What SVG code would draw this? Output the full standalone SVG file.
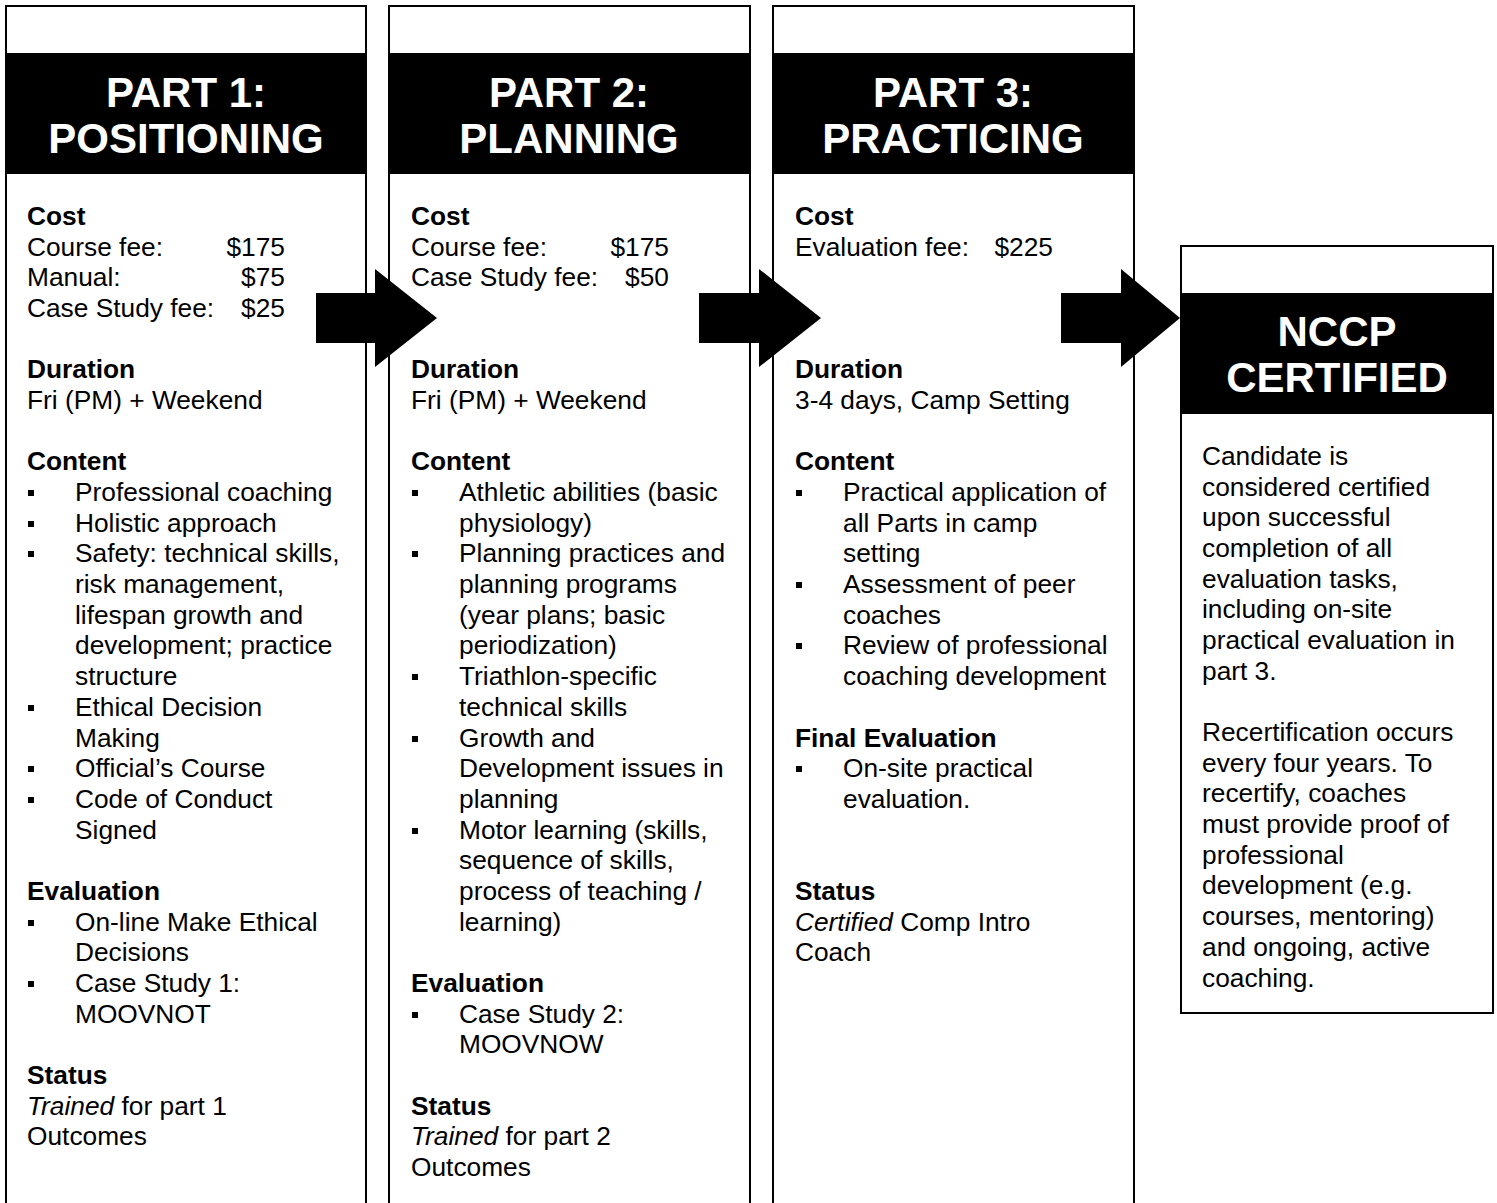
<svg xmlns="http://www.w3.org/2000/svg" width="1497" height="1203" viewBox="0 0 1497 1203">
<style>
.box{fill:#fff;stroke:#000;stroke-width:2}
.hdr{fill:#000}
.ht{font-family:"Liberation Sans",Arial,sans-serif;font-size:42px;font-weight:bold;fill:#fff;text-anchor:middle}
.t{font-family:"Liberation Sans",Arial,sans-serif;font-size:26.3px;fill:#000}
.b{font-weight:bold}
.i{font-style:italic}
.r{text-anchor:end}
.arrow{fill:#000}
</style>
<defs>
<rect id="blt" width="6" height="6" fill="#000"/>
</defs>

<g id="part1">
<rect class="box" x="6" y="6" width="360" height="1220"/>
<rect class="hdr" x="5" y="53" width="362" height="121"/>
<text class="ht" x="186" y="107">PART 1:</text>
<text class="ht" x="186" y="153">POSITIONING</text>
<text class="t b" x="27" y="225">Cost</text>
<text class="t" x="27" y="256">Course fee:</text><text class="t r" x="285" y="256">$175</text>
<text class="t" x="27" y="286">Manual:</text><text class="t r" x="285" y="286">$75</text>
<text class="t" x="27" y="317">Case Study fee:</text><text class="t r" x="285" y="317">$25</text>
<text class="t b" x="27" y="378">Duration</text>
<text class="t" x="27" y="409">Fri (PM) + Weekend</text>
<text class="t b" x="27" y="470">Content</text>
<text class="t" x="75" y="501">Professional coaching</text>
<text class="t" x="75" y="532">Holistic approach</text>
<text class="t" x="75" y="562">Safety: technical skills,</text>
<text class="t" x="75" y="593">risk management,</text>
<text class="t" x="75" y="624">lifespan growth and</text>
<text class="t" x="75" y="654">development; practice</text>
<text class="t" x="75" y="685">structure</text>
<text class="t" x="75" y="716">Ethical Decision</text>
<text class="t" x="75" y="747">Making</text>
<text class="t" x="75" y="777">Official’s Course</text>
<text class="t" x="75" y="808">Code of Conduct</text>
<text class="t" x="75" y="839">Signed</text>
<text class="t b" x="27" y="900">Evaluation</text>
<text class="t" x="75" y="931">On-line Make Ethical</text>
<text class="t" x="75" y="961">Decisions</text>
<text class="t" x="75" y="992">Case Study 1:</text>
<text class="t" x="75" y="1023">MOOVNOT</text>
<text class="t b" x="27" y="1084">Status</text>
<text class="t" x="27" y="1115"><tspan class="i">Trained</tspan> for part 1</text>
<text class="t" x="27" y="1145">Outcomes</text>
<use href="#blt" x="28" y="490"/>
<use href="#blt" x="28" y="521"/>
<use href="#blt" x="28" y="551"/>
<use href="#blt" x="28" y="705"/>
<use href="#blt" x="28" y="766"/>
<use href="#blt" x="28" y="797"/>
<use href="#blt" x="28" y="920"/>
<use href="#blt" x="28" y="981"/>
</g>

<g id="part2">
<rect class="box" x="389" y="6" width="361" height="1220"/>
<rect class="hdr" x="388" y="53" width="363" height="121"/>
<text class="ht" x="569" y="107">PART 2:</text>
<text class="ht" x="569" y="153">PLANNING</text>
<text class="t b" x="411" y="225">Cost</text>
<text class="t" x="411" y="256">Course fee:</text><text class="t r" x="669" y="256">$175</text>
<text class="t" x="411" y="286">Case Study fee:</text><text class="t r" x="669" y="286">$50</text>
<text class="t b" x="411" y="378">Duration</text>
<text class="t" x="411" y="409">Fri (PM) + Weekend</text>
<text class="t b" x="411" y="470">Content</text>
<text class="t" x="459" y="501">Athletic abilities (basic</text>
<text class="t" x="459" y="532">physiology)</text>
<text class="t" x="459" y="562">Planning practices and</text>
<text class="t" x="459" y="593">planning programs</text>
<text class="t" x="459" y="624">(year plans; basic</text>
<text class="t" x="459" y="654">periodization)</text>
<text class="t" x="459" y="685">Triathlon-specific</text>
<text class="t" x="459" y="716">technical skills</text>
<text class="t" x="459" y="747">Growth and</text>
<text class="t" x="459" y="777">Development issues in</text>
<text class="t" x="459" y="808">planning</text>
<text class="t" x="459" y="839">Motor learning (skills,</text>
<text class="t" x="459" y="869">sequence of skills,</text>
<text class="t" x="459" y="900">process of teaching /</text>
<text class="t" x="459" y="931">learning)</text>
<text class="t b" x="411" y="992">Evaluation</text>
<text class="t" x="459" y="1023">Case Study 2:</text>
<text class="t" x="459" y="1053">MOOVNOW</text>
<text class="t b" x="411" y="1115">Status</text>
<text class="t" x="411" y="1145"><tspan class="i">Trained</tspan> for part 2</text>
<text class="t" x="411" y="1176">Outcomes</text>
<use href="#blt" x="412" y="490"/>
<use href="#blt" x="412" y="551"/>
<use href="#blt" x="412" y="674"/>
<use href="#blt" x="412" y="736"/>
<use href="#blt" x="412" y="828"/>
<use href="#blt" x="412" y="1012"/>
</g>

<g id="part3">
<rect class="box" x="773" y="6" width="361" height="1220"/>
<rect class="hdr" x="772" y="53" width="363" height="121"/>
<text class="ht" x="953" y="107">PART 3:</text>
<text class="ht" x="953" y="153">PRACTICING</text>
<text class="t b" x="795" y="225">Cost</text>
<text class="t" x="795" y="256">Evaluation fee:</text><text class="t r" x="1053" y="256">$225</text>
<text class="t b" x="795" y="378">Duration</text>
<text class="t" x="795" y="409">3-4 days, Camp Setting</text>
<text class="t b" x="795" y="470">Content</text>
<text class="t" x="843" y="501">Practical application of</text>
<text class="t" x="843" y="532">all Parts in camp</text>
<text class="t" x="843" y="562">setting</text>
<text class="t" x="843" y="593">Assessment of peer</text>
<text class="t" x="843" y="624">coaches</text>
<text class="t" x="843" y="654">Review of professional</text>
<text class="t" x="843" y="685">coaching development</text>
<text class="t b" x="795" y="747">Final Evaluation</text>
<text class="t" x="843" y="777">On-site practical</text>
<text class="t" x="843" y="808">evaluation.</text>
<text class="t b" x="795" y="900">Status</text>
<text class="t" x="795" y="931"><tspan class="i">Certified</tspan> Comp Intro</text>
<text class="t" x="795" y="961">Coach</text>
<use href="#blt" x="796" y="490"/>
<use href="#blt" x="796" y="582"/>
<use href="#blt" x="796" y="643"/>
<use href="#blt" x="796" y="766"/>
</g>

<g id="certified">
<rect class="box" x="1181" y="246" width="312" height="767"/>
<rect class="hdr" x="1180" y="293" width="314" height="121"/>
<text class="ht" x="1337" y="346">NCCP</text>
<text class="ht" x="1337" y="392">CERTIFIED</text>
<text class="t" x="1202" y="465">Candidate is</text>
<text class="t" x="1202" y="496">considered certified</text>
<text class="t" x="1202" y="526">upon successful</text>
<text class="t" x="1202" y="557">completion of all</text>
<text class="t" x="1202" y="588">evaluation tasks,</text>
<text class="t" x="1202" y="618">including on-site</text>
<text class="t" x="1202" y="649">practical evaluation in</text>
<text class="t" x="1202" y="680">part 3.</text>
<text class="t" x="1202" y="741">Recertification occurs</text>
<text class="t" x="1202" y="772">every four years. To</text>
<text class="t" x="1202" y="802">recertify, coaches</text>
<text class="t" x="1202" y="833">must provide proof of</text>
<text class="t" x="1202" y="864">professional</text>
<text class="t" x="1202" y="894">development (e.g.</text>
<text class="t" x="1202" y="925">courses, mentoring)</text>
<text class="t" x="1202" y="956">and ongoing, active</text>
<text class="t" x="1202" y="987">coaching.</text>
</g>

<g id="connectors">
<polygon class="arrow" points="316,293 375,293 375,269 437,318 375,367 375,343 316,343"/>
<polygon class="arrow" points="699,293 759,293 759,269 821,318 759,367 759,343 699,343"/>
<polygon class="arrow" points="1061,293 1121,293 1121,269 1180,318 1121,367 1121,343 1061,343"/>
</g>
</svg>
